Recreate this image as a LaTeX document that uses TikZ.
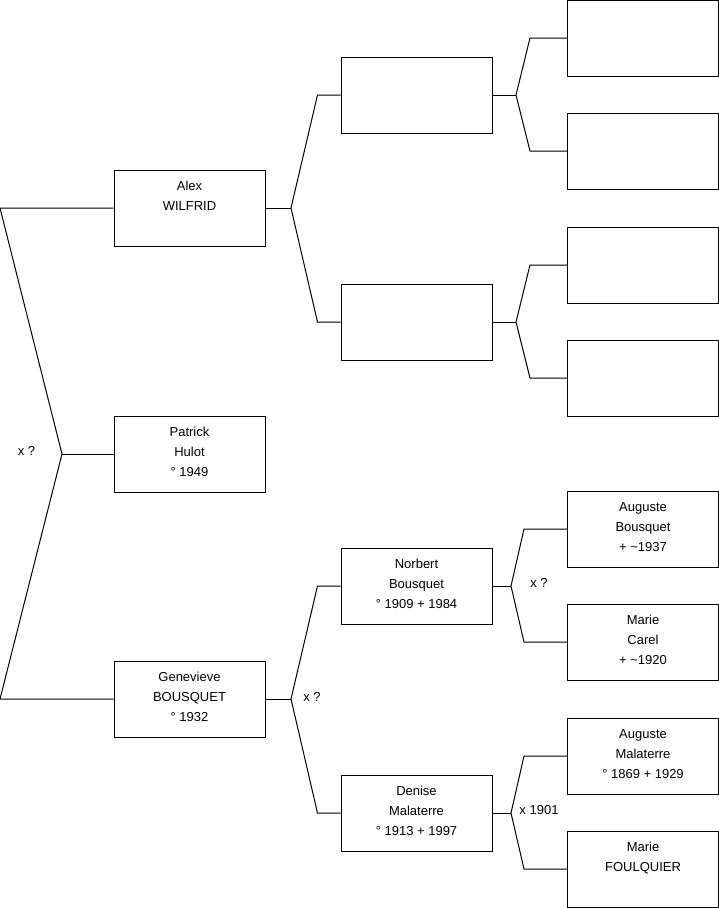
\documentclass[tikz,border=0pt]{standalone}
\usepackage{fontspec}
\setmainfont{Liberation Sans}

\begin{document}
\begin{tikzpicture}[x=1pt,y=-1pt,
	person/.style={draw,line width=1pt,minimum width=151pt,minimum height=76pt,inner sep=0pt,align=center,font=\fontsize{13}{20}\selectfont,execute at end node={\rule[-4pt]{0pt}{4pt}}},
	link/.style={draw,line width=1pt},
	union/.style={font=\fontsize{13}{20}\selectfont,inner sep=0pt}]
			\useasboundingbox (0,0) rectangle (719,908);
			% children
			\node[person] (alex) at (189.5,208) {Alex\\WILFRID\\\phantom{0}};
			\node[person] (patrick) at (189.5,454) {Patrick\\Hulot\\° 1949};
			\node[person] (genevieve) at (189.5,699) {Genevieve\\BOUSQUET\\° 1932};
			% parents
			\node[person] (afather) at (416.5,95) {};
			\node[person] (amother) at (416.5,322) {};
			\node[person] (norbert) at (416.5,586) {Norbert\\Bousquet\\° 1909 + 1984};
			\node[person] (denise) at (416.5,813) {Denise\\Malaterre\\° 1913 + 1997};
			% grandparents
			\node[person] (aff) at (643,38) {};
			\node[person] (afm) at (643,151) {};
			\node[person] (amf) at (643,265) {};
			\node[person] (amm) at (643,378) {};
			\node[person] (auguste1) at (643,529) {Auguste\\Bousquet\\+ \textasciitilde 1937};
			\node[person] (marie1) at (643,642) {Marie\\Carel\\+ \textasciitilde 1920};
			\node[person] (auguste2) at (643,756) {Auguste\\Malaterre\\° 1869 + 1929};
			\node[person] (marie2) at (643,869) {Marie\\FOULQUIER\\\phantom{0}};
			% root fork
			\coordinate (rtop) at (0,208);
			\coordinate (rfork) at (62,454);
			\coordinate (rbot) at (0,699);
			\draw[link] (alex.west) -- (rtop) -- (rfork) -- (rbot) -- (genevieve.west);
			\draw[link] (rfork) -- (patrick.west);
			% parents forks
			\coordinate (afork) at (291,208);
			\coordinate (gfork) at (291,699);
			\draw[link] (alex.east) -- (afork);
			\draw[link] (afather.west) -- ([xshift=-23pt]afather.west) -- (afork) -- ([xshift=-23pt]amother.west) -- (amother.west);
			\draw[link] (genevieve.east) -- (gfork);
			\draw[link] (norbert.west) -- ([xshift=-23pt]norbert.west) -- (gfork) -- ([xshift=-23pt]denise.west) -- (denise.west);
			% grandparents forks
			\coordinate (affork) at (516,95);
			\coordinate (amfork) at (516,322);
			\coordinate (nfork) at (511,586);
			\coordinate (dfork) at (511,813);
			\draw[link] (afather.east) -- (affork);
			\draw[link] (aff.west) -- ([xshift=-37pt]aff.west) -- (affork) -- ([xshift=-37pt]afm.west) -- (afm.west);
			\draw[link] (amother.east) -- (amfork);
			\draw[link] (amf.west) -- ([xshift=-37pt]amf.west) -- (amfork) -- ([xshift=-37pt]amm.west) -- (amm.west);
			\draw[link] (norbert.east) -- (nfork);
			\draw[link] (auguste1.west) -- ([xshift=-43pt]auguste1.west) -- (nfork) -- ([xshift=-43pt]marie1.west) -- (marie1.west);
			\draw[link] (denise.east) -- (dfork);
			\draw[link] (auguste2.west) -- ([xshift=-43pt]auguste2.west) -- (dfork) -- ([xshift=-43pt]marie2.west) -- (marie2.west);
			% unions
			\node[union] (u0) at (26.5,451) {x ?};
			\node[union] (u1) at (312,697) {x ?};
			\node[union] (u2) at (539,583) {x ?};
			\node[union] (u3) at (539,810) {x 1901};
\end{tikzpicture}
\end{document}
